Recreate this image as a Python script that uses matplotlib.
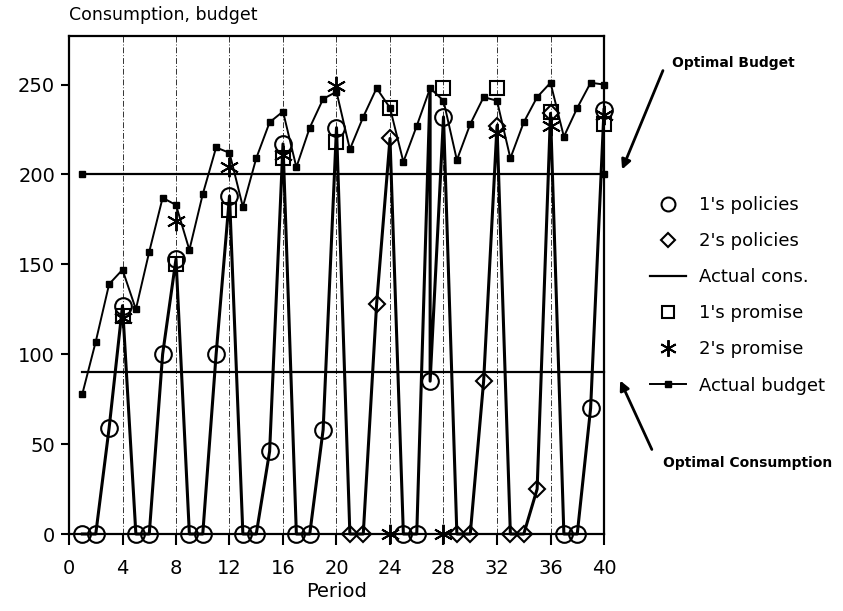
import matplotlib
matplotlib.use("Agg")
import matplotlib.pyplot as plt
from matplotlib.lines import Line2D

plt.rcParams['font.family'] = ['DejaVu Sans']

periods = list(range(1, 41))

# Actual budget, periods 1..40
budget = [78, 107, 139, 147, 125, 157, 187, 183, 158, 189,
          215, 212, 182, 209, 229, 235, 204, 226, 242, 246,
          214, 232, 248, 237, 207, 227, 248, 241, 208, 228,
          243, 241, 209, 229, 243, 251, 221, 237, 251, 250]

# Actual consumption (period 27 appears twice in the drawn line)
cons_periods = list(range(1, 28)) + [27] + list(range(28, 41))
cons_values = [0, 0, 59, 127, 0, 0, 100, 153, 0, 0,
               100, 188, 0, 0, 46, 217, 0, 0, 58, 226,
               0, 0, 128, 220, 0, 0, 248, 85, 232, 0,
               0, 85, 227, 0, 0, 25, 234, 0, 0, 70, 236]

# 1's policies (circles)
p1_periods = list(range(1, 21)) + [25, 26, 27, 28, 37, 38, 39, 40]
p1_values = [0, 0, 59, 127, 0, 0, 100, 153, 0, 0,
             100, 188, 0, 0, 46, 217, 0, 0, 58, 226,
             0, 0, 85, 232, 0, 0, 70, 236]

# 2's policies (diamonds)
p2_periods = [21, 22, 23, 24, 29, 30, 31, 32, 33, 34, 35, 36]
p2_values = [0, 0, 128, 220, 0, 0, 85, 227, 0, 0, 25, 234]

# Promises at election periods
promise_periods = [4, 8, 12, 16, 20, 24, 28, 32, 36, 40]
promise1 = [121, 150, 180, 209, 218, 237, 248, 248, 235, 228]
promise2 = [120, 174, 204, 211, 249, 0, 0, 223, 227, 233]

optimal_budget = 200
optimal_cons = 90

x_ticks = [0, 4, 8, 12, 16, 20, 24, 28, 32, 36, 40]
y_ticks = [0, 50, 100, 150, 200, 250]

W, H = 843, 611
fig = plt.figure(figsize=(W / 100, H / 100), dpi=100)
ax = fig.add_axes([69 / W, 1 - 534 / H, (604 - 69) / W, (534 - 36) / H])
ax.set_xlim(0, 40)
ax.set_ylim(0, 277)

for xv in x_ticks[1:-1]:
    ax.axvline(xv, color='#333333', lw=0.7, ls=(0, (6, 2, 1, 2)), zorder=1)

ax.plot([1, 40], [optimal_budget, optimal_budget], color='black', lw=1.6,
        marker='s', ms=4, zorder=2, clip_on=False)
ax.plot([1, 40], [optimal_cons, optimal_cons], color='black', lw=1.6, zorder=2,
        clip_on=False)

ax.plot(periods, budget, color='black', lw=1.4, marker='s', ms=4, zorder=3,
        clip_on=False)
ax.plot(cons_periods, cons_values, color='black', lw=2.2, zorder=3, clip_on=False)

ax.plot(p1_periods, p1_values, ls='none', marker='o', ms=12, mfc='none',
        mec='black', mew=1.5, zorder=4, clip_on=False)
ax.plot(p2_periods, p2_values, ls='none', marker='D', ms=8, mfc='none',
        mec='black', mew=1.5, zorder=4, clip_on=False)
ax.plot(promise_periods, promise1, ls='none', marker='s', ms=10, mfc='none',
        mec='black', mew=1.5, zorder=4, clip_on=False)
ax.plot(promise_periods, promise2, ls='none', marker=(6, 2, 0), ms=14,
        mec='black', mew=1.4, zorder=4, clip_on=False)

for s in ax.spines.values():
    s.set_linewidth(1.6)
ax.set_xticks(x_ticks)
ax.set_yticks(y_ticks)
ax.tick_params(axis='x', direction='out', length=8, width=1.5, labelsize=14, pad=10)
ax.tick_params(axis='y', direction='out', length=6, width=1.5, labelsize=14, pad=4)

ax.set_xlabel('Period', fontsize=14, labelpad=3)
fig.text(69 / W, 1 - 15 / H, 'Consumption, budget', fontsize=12.5,
         ha='left', va='center')

handles = [
    Line2D([], [], ls='none', marker='o', ms=10, mfc='none', mec='black', mew=1.5),
    Line2D([], [], ls='none', marker='D', ms=7, mfc='none', mec='black', mew=1.5),
    Line2D([], [], color='black', lw=1.6),
    Line2D([], [], ls='none', marker='s', ms=9, mfc='none', mec='black', mew=1.5),
    Line2D([], [], ls='none', marker=(6, 2, 0), ms=12, mec='black', mew=1.4),
    Line2D([], [], color='black', lw=1.4, marker='s', ms=4),
]
labels = ["1's policies", "2's policies", "Actual cons.", "1's promise",
          "2's promise", "Actual budget"]
fig.legend(handles, labels, loc='upper left',
           bbox_to_anchor=(634 / W, 1 - 180 / H), frameon=False,
           fontsize=13, labelspacing=1.0, handlelength=2.0, handletextpad=0.7)

fig.text(672 / W, 1 - 63 / H, 'Optimal Budget', fontsize=10, fontweight='bold',
         ha='left', va='center')
fig.text(663 / W, 1 - 463 / H, 'Optimal Consumption', fontsize=10,
         fontweight='bold', ha='left', va='center')
ax.annotate('', xy=(621 / W, 1 - 172 / H), xytext=(664 / W, 1 - 68 / H),
            xycoords='figure fraction', textcoords='figure fraction',
            arrowprops=dict(arrowstyle='-|>', lw=2, color='black',
                            mutation_scale=14), annotation_clip=False)
ax.annotate('', xy=(619 / W, 1 - 378 / H), xytext=(653 / W, 1 - 452 / H),
            xycoords='figure fraction', textcoords='figure fraction',
            arrowprops=dict(arrowstyle='-|>', lw=2, color='black',
                            mutation_scale=14), annotation_clip=False)

fig.savefig('out.png', dpi=100)
